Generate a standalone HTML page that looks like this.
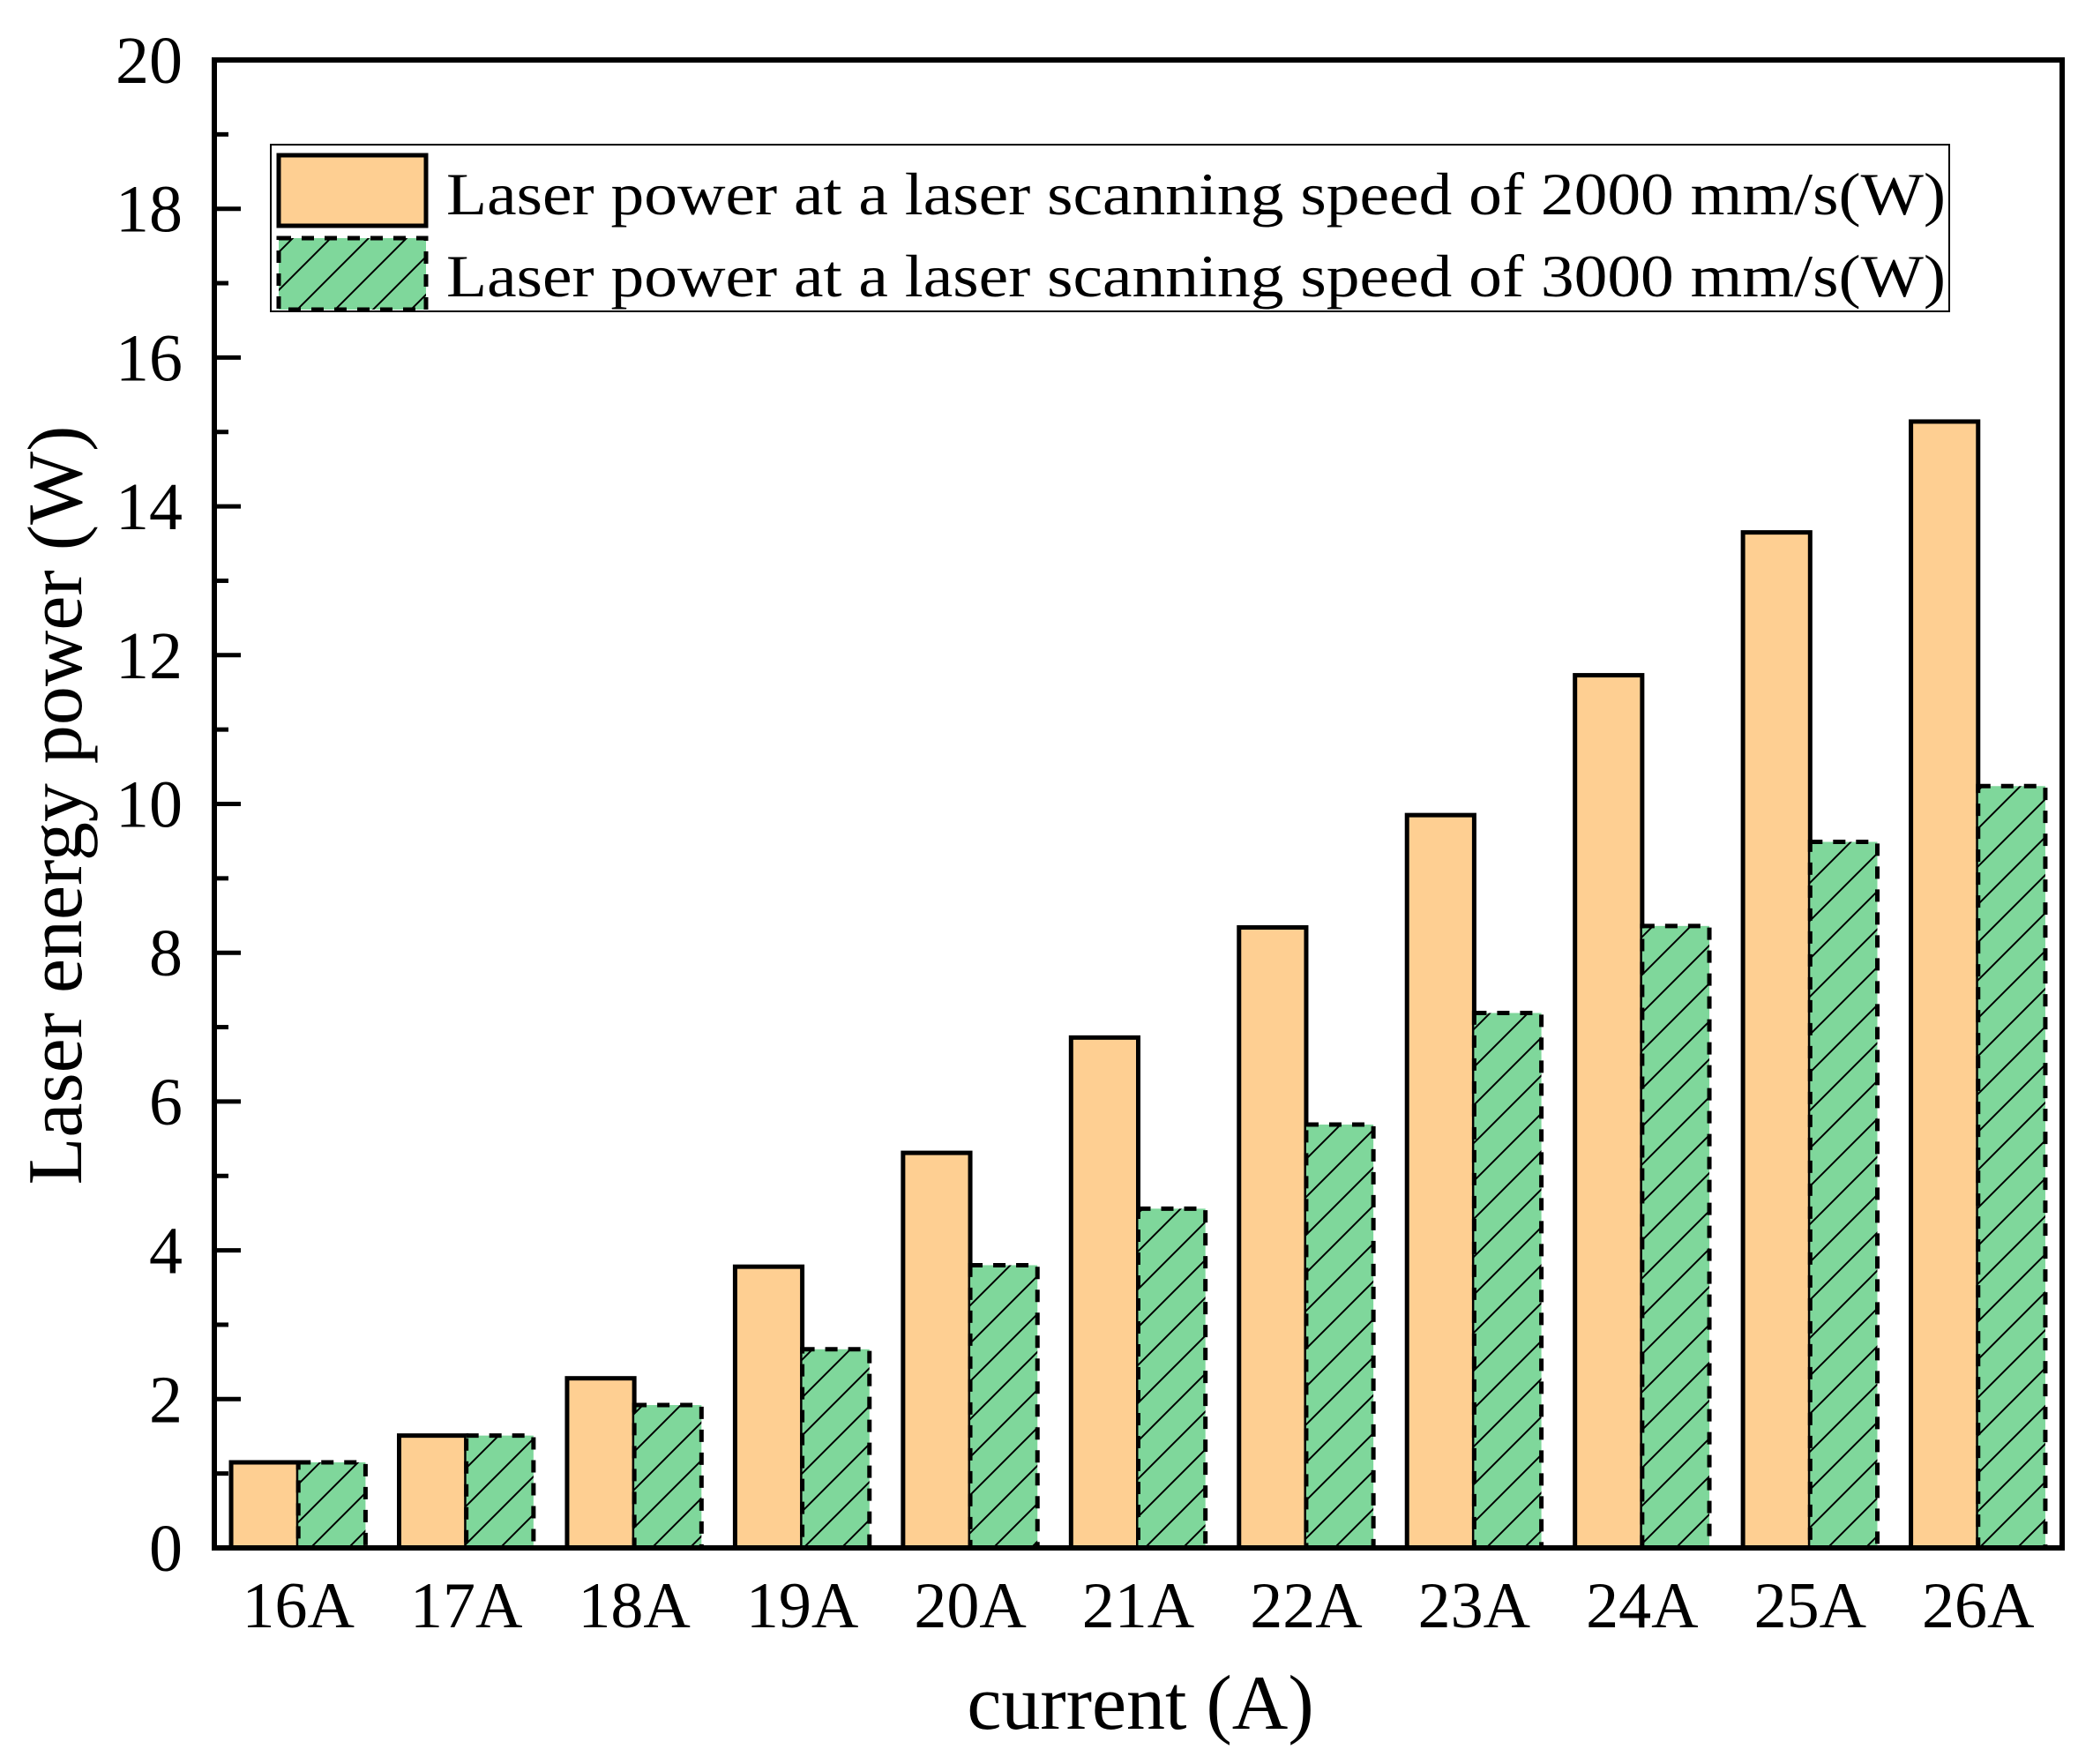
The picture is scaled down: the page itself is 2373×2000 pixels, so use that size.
<!DOCTYPE html>
<html><head><meta charset="utf-8">
<style>
html,body{margin:0;padding:0;background:#fff;}
svg{display:block;font-family:"Liberation Serif","DejaVu Serif",serif;}
</style></head>
<body>
<svg id="chart" width="2373" height="2000" viewBox="0 0 2373 2000" xmlns="http://www.w3.org/2000/svg">
<defs>
<pattern id="hatch" patternUnits="userSpaceOnUse" width="43" height="43">
<rect width="43" height="43" fill="#7fd79b"/>
<path d="M-5,48 L48,-5 M-5,5 L5,-5 M38,48 L48,38" stroke="#000" stroke-width="2"/>
</pattern>
</defs>
<g id="bars"></g>
<g id="axes"></g>
<g id="legend">
<rect x="307" y="164" width="1903" height="189" fill="#fff" stroke="#000" stroke-width="2"/>
<rect x="316" y="176" width="167" height="80" fill="#fecf92" stroke="#000" stroke-width="5"/>
<text x="506" y="243" font-size="68" textLength="1700" lengthAdjust="spacingAndGlyphs">Laser power at a laser scanning speed of 2000 mm/s(W)</text>
<rect x="316" y="270" width="167" height="81" fill="url(#hatch)" stroke="#000" stroke-width="5" stroke-dasharray="14 12"/>
<text x="506" y="336" font-size="68" textLength="1700" lengthAdjust="spacingAndGlyphs">Laser power at a laser scanning speed of 3000 mm/s(W)</text>
</g>
<text x="1293" y="1960" font-size="88" text-anchor="middle">current (A)</text>
<text transform="translate(92,913) rotate(-90)" font-size="88" text-anchor="middle">Laser energy power (W)</text>
</svg>
<script>
const categories = ["16A","17A","18A","19A","20A","21A","22A","23A","24A","25A","26A"];
const speed2000 = [1.15,1.51,2.28,3.78,5.31,6.86,8.34,9.85,11.73,13.65,15.14];
const speed3000 = [1.15,1.51,1.92,2.67,3.80,4.56,5.69,7.19,8.36,9.49,10.24];
const yTicks = [0,2,4,6,8,10,12,14,16,18,20];
const yMinorTicks = [1,3,5,7,9,11,13,15,17,19];

const NS = "http://www.w3.org/2000/svg";
const L = 243, R = 2338, T = 68, B = 1755;
const yMin = 0, yMax = 20;
const band = (R - L) / categories.length;
const barW = band * 0.4;
function y(v){ return B - (v - yMin) / (yMax - yMin) * (B - T); }
function xc(i){ return L + band * (i + 0.5); }
function mk(tag, attrs, parent){
  const e = document.createElementNS(NS, tag);
  for (const k in attrs) e.setAttribute(k, attrs[k]);
  parent.appendChild(e);
  return e;
}
const bars = document.getElementById("bars");
const axes = document.getElementById("axes");

categories.forEach((c, i) => {
  const a = mk("rect", {x: xc(i) - barW, y: y(speed2000[i]), width: barW, height: y(0) - y(speed2000[i]), fill: "#fecf92", stroke: "#000", "stroke-width": 5}, bars);
  
  
  const b = mk("rect", {x: xc(i), y: y(speed3000[i]), width: barW, height: y(0) - y(speed3000[i]), fill: "url(#hatch)", stroke: "#000", "stroke-width": 5, "stroke-dasharray": "14 12"}, bars);
  
  
  const t = mk("text", {x: xc(i), y: 1845, "font-size": 74, "text-anchor": "middle"}, axes);
  t.textContent = c;
  
  
});

const frame = mk("rect", {x: L, y: T, width: R - L, height: B - T, fill: "none", stroke: "#000", "stroke-width": 6}, axes);



yTicks.forEach(v => {
  const tk = mk("line", {x1: L, x2: L + 30, y1: y(v), y2: y(v), stroke: "#000", "stroke-width": 5}, axes);
  
  
  const lb = mk("text", {x: 207, y: y(v) + 26, "font-size": 76, "text-anchor": "end"}, axes);
  lb.textContent = v;
  
  
});
yMinorTicks.forEach(v => {
  const tk = mk("line", {x1: L, x2: L + 16, y1: y(v), y2: y(v), stroke: "#000", "stroke-width": 5}, axes);
  
  
});
</script>
</body></html>
